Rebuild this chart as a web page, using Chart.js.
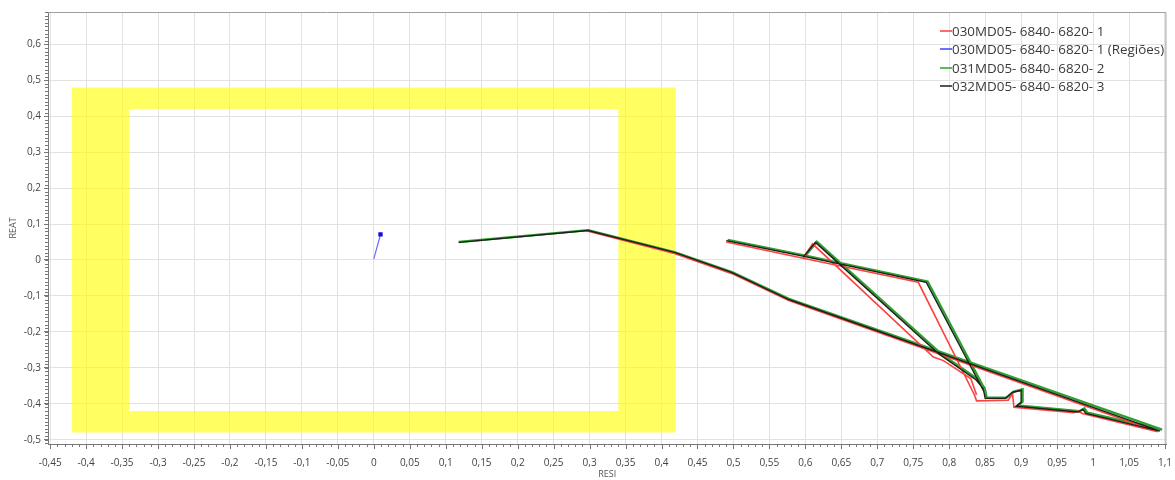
<!DOCTYPE html>
<html>
<head>
<meta charset="utf-8">
<script src="https://cdn.jsdelivr.net/npm/chart.js@4.4.1/dist/chart.umd.min.js"></script>
<style>
  html, body { margin: 0; padding: 0; background: #fff; }
  #wrap { position: relative; width: 1175px; height: 480px; }
  #legend { position: absolute; left: 940px; top: 22px; font: 13.4px "Open Sans", sans-serif; color: #3a3a3a; line-height: 18.3px; }
  #legend div { display: flex; align-items: center; white-space: nowrap; }
  #legend span.mk { display: inline-block; width: 12px; height: 2px; margin-right: 0; }
</style>
</head>
<body>
<div id="wrap">
  <canvas id="chart"></canvas>
  <div id="legend"></div>
</div>
<script>
// series names and colours
const seriesNames = ['030MD05- 6840- 6820- 1', '030MD05- 6840- 6820- 1 (Regiões)', '031MD05- 6840- 6820- 2', '032MD05- 6840- 6820- 3'];
const seriesColors = ['#ff4040', '#3a3aff', '#2fa030', '#1e1e1e'];
const legendColors = ['#ff6b6b', '#7070ff', '#5cb85c', '#555555'];

// zone (yellow frame): outer box then inner box
const frameResi = [-0.42, 0.42, 0.42, -0.42, -0.42, -0.34, -0.34, 0.34, 0.34, -0.34, -0.42];
const frameReat = [0.48, 0.48, -0.48, -0.48, 0.48, 0.42, -0.42, -0.42, 0.42, 0.42, 0.48];

// 030 ... 1
const redResi = [0.298, 0.418, 0.498, 0.577, 1.090, 0.985, 0.979, 0.973, 0.890, 0.888, 0.882, 0.838, 0.835, 0.757, 0.597, 0.610, 0.778, 0.792, 0.830, 0.838, null, 0.490, 0.597];
const redReat = [0.080, 0.018, -0.038, -0.113, -0.478, -0.427, -0.420, -0.425, -0.410, -0.372, -0.390, -0.392, -0.375, -0.062, 0.005, 0.045, -0.270, -0.280, -0.330, -0.375, null, 0.050, 0.005];

// 030 ... 1 (Regiões)
const blueResi = [0.000, 0.0093];
const blueReat = [0.003, 0.071];

// 031 ... 2
const greenResi = [0.118, 0.298, 0.418, 0.498, 0.577, 1.096, 0.992, 0.988, 0.981, 0.895, 0.902, 0.902, 0.890, 0.880, 0.852, 0.850, 0.770, 0.600, 0.616, 0.788, 0.839, 0.850, null, 0.492, 0.600];
const greenReat = [0.050, 0.083, 0.022, -0.034, -0.108, -0.472, -0.425, -0.413, -0.421, -0.405, -0.394, -0.360, -0.366, -0.383, -0.383, -0.362, -0.060, 0.012, 0.051, -0.260, -0.331, -0.358, null, 0.056, 0.012];

// 032 ... 3
const blackResi = [0.118, 0.298, 0.418, 0.498, 0.577, 1.093, 0.990, 0.986, 0.979, 0.893, 0.900, 0.900, 0.888, 0.878, 0.850, 0.848, 0.768, 0.598, 0.614, 0.786, 0.837, 0.848, null, 0.490, 0.598];
const blackReat = [0.049, 0.082, 0.021, -0.035, -0.110, -0.476, -0.427, -0.416, -0.423, -0.407, -0.396, -0.363, -0.368, -0.385, -0.385, -0.365, -0.062, 0.010, 0.049, -0.262, -0.333, -0.360, null, 0.054, 0.010];

const xMin = -0.453, xMax = 1.102, xStep = 0.05;
const yMin = -0.512, yMax = 0.69, yStep = 0.1;

function pts(rs, xs) {
  return rs.map((r, i) => ({ x: r, y: xs[i] }));
}

function fmt(v) {
  return String(Number(v.toFixed(2))).replace('.', ',');
}

// minor/major tick marks along the axes + plot box
const axisDecor = {
  id: 'axisDecor',
  afterDraw(chart) {
    const { ctx, chartArea: a, scales: { x, y } } = chart;
    ctx.save();
    ctx.strokeStyle = '#a0a0a0';
    ctx.lineWidth = 1;
    ctx.beginPath();
    ctx.moveTo(a.left, a.top + 0.5);
    ctx.lineTo(a.right - 0.5, a.top + 0.5);
    ctx.lineTo(a.right - 0.5, a.bottom);
    ctx.stroke();
    ctx.strokeStyle = '#777';
    ctx.beginPath();
    for (let i = Math.ceil(xMin * 100); i <= Math.floor(xMax * 100); i++) {
      const px = Math.round(x.getPixelForValue(i / 100)) + 0.5;
      ctx.moveTo(px, a.bottom);
      ctx.lineTo(px, a.bottom + (i % 5 === 0 ? 5 : 3));
    }
    for (let i = Math.ceil(yMin * 100); i <= Math.floor(yMax * 100); i++) {
      const py = Math.round(y.getPixelForValue(i / 100)) + 0.5;
      ctx.moveTo(a.left - 3, py);
      ctx.lineTo(a.left, py);
    }
    ctx.stroke();
    ctx.restore();
  }
};

const tickFont = { family: '"Open Sans", sans-serif', size: 10 };

new Chart(document.getElementById('chart'), {
  type: 'scatter',
  data: {
    datasets: [
      {
        label: 'zona',
        data: pts(frameResi, frameReat),
        showLine: true,
        borderWidth: 0,
        pointRadius: 0,
        backgroundColor: 'rgba(255,255,0,0.62)',
        fill: 'shape',
        order: 9
      },
      {
        label: seriesNames[0],
        data: pts(redResi, redReat),
        showLine: true,
        borderColor: seriesColors[0],
        borderWidth: 1.6,
        pointRadius: 0,
        order: 2
      },
      {
        label: seriesNames[1],
        data: pts(blueResi, blueReat),
        showLine: true,
        borderColor: 'rgba(70,70,255,0.8)',
        borderWidth: 1.2,
        pointRadius: [0, 2.2],
        pointStyle: 'rect',
        pointBackgroundColor: '#1010e0',
        pointBorderColor: '#1010e0',
        order: 0
      },
      {
        label: seriesNames[2],
        data: pts(greenResi, greenReat),
        showLine: true,
        borderColor: seriesColors[2],
        borderWidth: 2.4,
        pointRadius: 0,
        order: 3
      },
      {
        label: seriesNames[3],
        data: pts(blackResi, blackReat),
        showLine: true,
        borderColor: seriesColors[3],
        borderWidth: 1.4,
        pointRadius: 0,
        order: 1
      }
    ]
  },
  options: {
    responsive: true,
    maintainAspectRatio: false,
    animation: false,
    spanGaps: false,
    layout: { padding: { left: 8, top: 12, right: 7, bottom: 0 } },
    plugins: {
      legend: { display: false },
      tooltip: { enabled: false }
    },
    scales: {
      x: {
        type: 'linear',
        min: xMin,
        max: xMax,
        afterFit: s => { s.height = 36; },
        ticks: { stepSize: xStep, includeBounds: false, autoSkip: false, maxRotation: 0, color: '#444', font: tickFont, padding: 3, callback: v => fmt(v) },
        grid: { color: '#e2e2e2', tickColor: 'rgba(0,0,0,0)', tickLength: 10 },
        border: { color: '#777' },
        title: { display: true, text: 'RESI', color: '#555', font: { family: '"Open Sans", sans-serif', size: 9 }, padding: { top: 0, bottom: 0 } }
      },
      y: {
        type: 'linear',
        min: yMin,
        max: yMax,
        afterFit: s => { s.width = 40; },
        ticks: { stepSize: yStep, includeBounds: false, color: '#444', font: tickFont, padding: 3, callback: v => fmt(v) },
        grid: { color: '#e2e2e2', tickColor: '#777', tickLength: 4 },
        border: { color: '#777' },
        title: { display: true, text: 'REAT', color: '#555', font: { family: '"Open Sans", sans-serif', size: 9 }, padding: { top: 0, bottom: 0 } }
      }
    }
  },
  plugins: [axisDecor]
});

// legend, top right inside the plot
const legendEl = document.getElementById('legend');
seriesNames.forEach((name, i) => {
  const row = document.createElement('div');
  const mk = document.createElement('span');
  mk.className = 'mk';
  mk.style.background = legendColors[i];
  row.appendChild(mk);
  row.appendChild(document.createTextNode(name));
  legendEl.appendChild(row);
});
</script>
</body>
</html>
